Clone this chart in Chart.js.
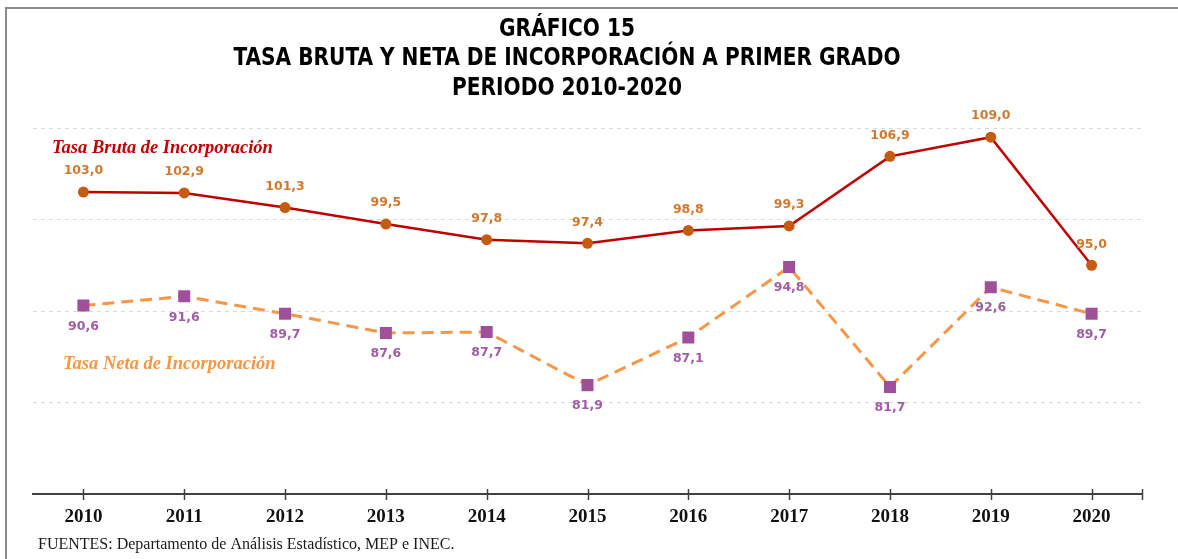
<!DOCTYPE html>
<html>
<head>
<meta charset="utf-8">
<script src="https://cdn.jsdelivr.net/npm/chart.js"></script>
<style>
  body { margin: 0; background: #fff; }
  #wrap { width: 1178px; height: 559px; }
</style>
</head>
<body>
<div id="wrap"><canvas id="chart" width="1178" height="559"></canvas></div>
<script>
const years = ['2010', '2011', '2012', '2013', '2014', '2015', '2016', '2017', '2018', '2019', '2020'];
const tasaBruta = [103.0, 102.9, 101.3, 99.5, 97.8, 97.4, 98.8, 99.3, 106.9, 109.0, 95.0];
const tasaNeta = [90.6, 91.6, 89.7, 87.6, 87.7, 81.9, 87.1, 94.8, 81.7, 92.6, 89.7];
const titleLines = ['GRÁFICO 15', 'TASA BRUTA Y NETA DE INCORPORACIÓN A PRIMER GRADO', 'PERIODO 2010-2020'];
const footer = 'FUENTES: Departamento de Análisis Estadístico, MEP e INEC.';

const fmt = v => v.toFixed(1).replace('.', ',');

// title, captions, frame, value labels and axis ticks
const extras = {
  id: 'extras',
  afterDraw(chart) {
    const ctx = chart.ctx;
    const area = chart.chartArea;
    ctx.save();

    // frame
    ctx.strokeStyle = '#8c8c8c';
    ctx.lineWidth = 2;
    ctx.beginPath();
    ctx.moveTo(6, 559);
    ctx.lineTo(6, 8);
    ctx.lineTo(1178, 8);
    ctx.stroke();

    // title (condensed to the width of the original)
    ctx.fillStyle = '#000';
    ctx.textAlign = 'center';
    ctx.textBaseline = 'middle';
    ctx.font = "bold 25px 'Liberation Sans Narrow', 'DejaVu Sans Condensed', sans-serif";
    const k = 667 / ctx.measureText(titleLines[1]).width;
    ctx.save();
    ctx.translate(567, 0);
    ctx.scale(k, 1);
    titleLines.forEach((t, i) => ctx.fillText(t, 0, 29 + i * 29.5));
    ctx.restore();

    // series captions
    ctx.textAlign = 'left';
    ctx.font = "italic bold 18.5px 'Liberation Serif', serif";
    ctx.fillStyle = '#c00000';
    ctx.fillText('Tasa Bruta de Incorporación', 52, 148);
    ctx.fillStyle = '#f79646';
    ctx.fillText('Tasa Neta de Incorporación', 63, 364);

    // footer
    ctx.fillStyle = '#1a1a1a';
    ctx.font = "16px 'Liberation Serif', serif";
    ctx.fillText(footer, 38, 545);

    // value labels
    ctx.textAlign = 'center';
    ctx.font = "bold 12.5px 'DejaVu Sans', sans-serif";
    chart.getDatasetMeta(0).data.forEach((p, i) => {
      ctx.fillStyle = '#d2782e';
      ctx.fillText(fmt(tasaBruta[i]), p.x, p.y - 21);
    });
    chart.getDatasetMeta(1).data.forEach((p, i) => {
      ctx.fillStyle = '#a05ca6';
      ctx.fillText(fmt(tasaNeta[i]), p.x, p.y + 21);
    });

    // x tick marks crossing the axis
    const xs = chart.scales.x;
    ctx.strokeStyle = '#404040';
    ctx.lineWidth = 1.5;
    const ticks = xs.ticks.map((t, i) => xs.getPixelForTick(i));
    ticks.push(area.right);
    ticks.forEach(x => {
      ctx.beginPath();
      ctx.moveTo(Math.round(x) + 0.5, area.bottom - 5);
      ctx.lineTo(Math.round(x) + 0.5, area.bottom + 6);
      ctx.stroke();
    });
    ctx.restore();
  }
};

new Chart(document.getElementById('chart'), {
  type: 'line',
  data: {
    labels: years,
    datasets: [
      {
        label: 'Tasa Bruta de Incorporación',
        data: tasaBruta,
        borderColor: '#c00000',
        borderWidth: 2.5,
        pointStyle: 'circle',
        pointRadius: 5.5,
        pointBackgroundColor: '#c55a11',
        pointBorderColor: '#c55a11',
        pointBorderWidth: 0,
        tension: 0
      },
      {
        label: 'Tasa Neta de Incorporación',
        data: tasaNeta,
        borderColor: '#f79646',
        borderWidth: 3,
        borderDash: [12, 7],
        pointStyle: 'rect',
        pointRadius: 8.5,
        pointBackgroundColor: '#a0509a',
        pointBorderColor: '#a0509a',
        pointBorderWidth: 0,
        tension: 0
      }
    ]
  },
  options: {
    responsive: false,
    animation: false,
    layout: { padding: { left: 33, right: 36, top: 128, bottom: 0 } },
    plugins: {
      legend: { display: false },
      title: { display: false },
      tooltip: { enabled: false }
    },
    scales: {
      x: {
        offset: true,
        grid: { display: false, drawTicks: false },
        border: { display: true, color: '#404040', width: 2 },
        ticks: {
          color: '#111',
          padding: 12,
          font: { family: "'Liberation Serif', serif", weight: 'bold', size: 19 }
        },
        afterFit: s => { s.height = 65; }
      },
      y: {
        min: 70,
        max: 110,
        ticks: { display: false, stepSize: 10 },
        grid: {
          drawTicks: false,
          color: c => c.tick && c.tick.value === 70 ? 'rgba(0,0,0,0)' : '#d9d9d9',
          lineWidth: 1
        },
        border: { display: false, dash: [4, 4] },
        afterFit: s => { s.width = 0; }
      }
    }
  },
  plugins: [extras]
});
</script>
</body>
</html>
